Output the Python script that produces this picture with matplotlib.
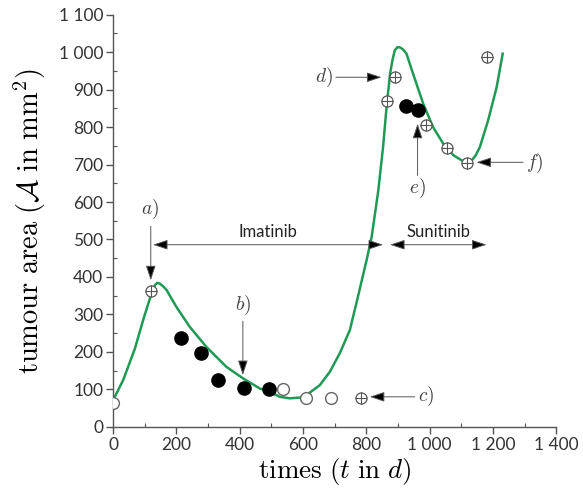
import matplotlib.pyplot as plt
from matplotlib.ticker import MultipleLocator, FuncFormatter

plt.rcParams['mathtext.fontset'] = 'cm'
plt.rcParams['font.family'] = ['Lato', 'DejaVu Sans']

# model curve (t in days, tumour area in mm^2)
t_model = [0, 32, 69, 95, 116, 132, 139, 146, 158, 169, 200, 242, 295, 358, 411, 464,
           495, 527, 558, 590, 621, 653, 685, 716, 748, 771, 801, 817, 838, 853,
           864, 875, 883, 890, 898, 906, 915, 927, 948, 980, 1011, 1043, 1075, 1106,
           1120, 1133, 1146, 1159, 1185, 1212, 1231]
a_model = [71, 125, 209, 285, 342, 378, 384, 383, 375, 365, 320, 267, 213, 160, 129, 102,
           93, 80, 76, 78, 91, 111, 147, 196, 258, 338, 445, 507, 631, 747,
           853, 942, 980, 1005, 1013, 1013, 1008, 996, 942, 862, 800, 756, 725, 709,
           706, 711, 725, 747, 818, 907, 996]

# measurements
t_open = [0, 537, 611, 688]
a_open = [63, 100, 78, 78]
t_filled = [213, 279, 332, 413, 492, 927, 962]
a_filled = [236, 196, 126, 104, 100, 855, 845]
t_cross = [121, 782, 867, 891, 990, 1054, 1117, 1180]
a_cross = [362, 78, 869, 933, 805, 745, 704, 987]

# (label, text position, arrow tail, arrow tip)
events = [
    ('a', (116, 580), (119, 535), (119, 391)),
    ('b', (410, 325), (410, 282), (410, 138)),
    ('c', (990, 80), (953, 80), (811, 80)),
    ('d', (666, 933), (704, 933), (848, 933)),
    ('e', (960, 636), (962, 671), (962, 809)),
    ('f', (1333, 702), (1295, 706), (1148, 706)),
]
treatments = [('Imatinib', 126, 853), ('Sunitinib', 875, 1180)]
treat_y = 486

fig = plt.figure(figsize=(5.83, 4.9), dpi=100)
ax = fig.add_axes([0.194, 0.129, 0.76, 0.841])

ax.plot(t_model, a_model, color='#1f9a55', lw=1.8, zorder=2)
ax.plot(t_open, a_open, 'o', ms=8.5, mfc='white', mec='#666666', mew=1.0, zorder=3)
ax.plot(t_filled, a_filled, 'o', ms=9.5, color='black', zorder=3)
ax.plot(t_cross, a_cross, 'o', ms=8, mfc='white', mec='#555555', mew=0.9, zorder=3)
ax.plot(t_cross, a_cross, '+', ms=8, mec='#555555', mew=0.8, zorder=4)

arrow_kw = dict(arrowstyle='-|>,head_length=0.9,head_width=0.3', color='#555555',
                fc='black', lw=0.7, shrinkA=0, shrinkB=0, mutation_scale=10)
for name, txt, tail, tip in events:
    ax.annotate('', xy=tip, xytext=tail, arrowprops=arrow_kw)
    ax.text(txt[0], txt[1], f'${name})$', fontsize=14, color='#444444',
            ha='center', va='center')

both_kw = dict(arrow_kw, arrowstyle='<|-|>,head_length=0.9,head_width=0.3')
for name, t0, t1 in treatments:
    ax.annotate('', xy=(t1, treat_y), xytext=(t0, treat_y), arrowprops=both_kw)
    ax.text((t0 + t1) / 2, treat_y + 12, name, fontsize=12, color='#222222',
            ha='center', va='bottom')

ax.set_xlim(0, 1400)
ax.set_ylim(0, 1100)
ax.xaxis.set_major_locator(MultipleLocator(200))
ax.xaxis.set_minor_locator(MultipleLocator(100))
ax.yaxis.set_major_locator(MultipleLocator(100))
ax.yaxis.set_minor_locator(MultipleLocator(50))
fmt = FuncFormatter(lambda v, pos: f'{int(v):,}'.replace(',', ' '))
ax.xaxis.set_major_formatter(fmt)
ax.yaxis.set_major_formatter(fmt)

for side in ('top', 'right'):
    ax.spines[side].set_visible(False)
for side in ('left', 'bottom'):
    ax.spines[side].set_color('#555555')
    ax.spines[side].set_linewidth(1.0)
ax.tick_params(which='major', direction='out', length=5, width=1.0,
               color='#555555', labelsize=12.5, labelcolor='#333333', pad=2)
ax.tick_params(which='minor', direction='in', length=3, width=0.8, color='#555555')

ax.set_xlabel(r'$\mathrm{times}\ (t\ \mathrm{in}\ d)$', fontsize=19.5)
ax.set_ylabel(r'$\mathrm{tumour\ area}\ (\mathcal{A}\ \mathrm{in\ mm}^2)$', fontsize=20.5)
ax.xaxis.set_label_coords(0.5, -0.07)
ax.yaxis.set_label_coords(-0.147, 0.5)

fig.savefig('out.png', dpi=100)
